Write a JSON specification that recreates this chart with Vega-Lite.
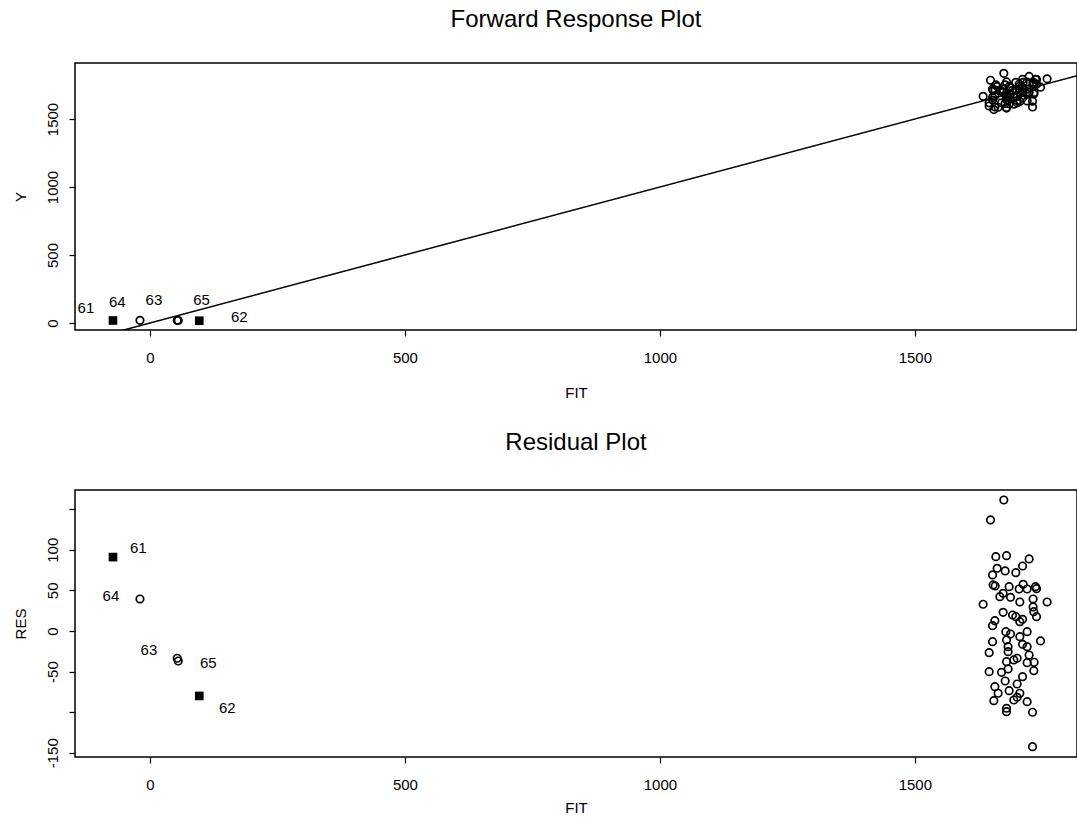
{
  "$schema": "https://vega.github.io/schema/vega-lite/v6.json",
  "padding": {"left": 12, "top": 7, "right": 0, "bottom": 0},
  "spacing": 29,
  "datasets": {
    "pts": [
      {"FIT": 1674.5, "Y": 1835.8, "RES": 161.3, "type": "open"},
      {"FIT": 1648.4, "Y": 1785.1, "RES": 136.7, "type": "open"},
      {"FIT": 1658.8, "Y": 1750.3, "RES": 91.5, "type": "open"},
      {"FIT": 1679.8, "Y": 1772.5, "RES": 92.7, "type": "open"},
      {"FIT": 1724.1, "Y": 1812.8, "RES": 88.7, "type": "open"},
      {"FIT": 1661.4, "Y": 1738.6, "RES": 77.2, "type": "open"},
      {"FIT": 1677.1, "Y": 1751.0, "RES": 73.9, "type": "open"},
      {"FIT": 1711.2, "Y": 1791.2, "RES": 80.0, "type": "open"},
      {"FIT": 1698.0, "Y": 1769.8, "RES": 71.8, "type": "open"},
      {"FIT": 1652.4, "Y": 1721.4, "RES": 69.0, "type": "open"},
      {"FIT": 1653.5, "Y": 1710.2, "RES": 56.7, "type": "open"},
      {"FIT": 1657.5, "Y": 1712.9, "RES": 55.4, "type": "open"},
      {"FIT": 1684.9, "Y": 1739.5, "RES": 54.6, "type": "open"},
      {"FIT": 1712.4, "Y": 1769.9, "RES": 57.5, "type": "open"},
      {"FIT": 1704.5, "Y": 1756.2, "RES": 51.7, "type": "open"},
      {"FIT": 1720.2, "Y": 1771.9, "RES": 51.7, "type": "open"},
      {"FIT": 1736.7, "Y": 1791.3, "RES": 54.6, "type": "open"},
      {"FIT": 1738.6, "Y": 1790.7, "RES": 52.1, "type": "open"},
      {"FIT": 1673.1, "Y": 1719.5, "RES": 46.4, "type": "open"},
      {"FIT": 1666.7, "Y": 1708.9, "RES": 42.2, "type": "open"},
      {"FIT": 1687.6, "Y": 1729.1, "RES": 41.5, "type": "open"},
      {"FIT": 1731.9, "Y": 1771.3, "RES": 39.4, "type": "open"},
      {"FIT": 1633.9, "Y": 1666.8, "RES": 32.9, "type": "open"},
      {"FIT": 1705.9, "Y": 1741.6, "RES": 35.7, "type": "open"},
      {"FIT": 1759.4, "Y": 1795.1, "RES": 35.7, "type": "open"},
      {"FIT": 1731.9, "Y": 1761.5, "RES": 29.6, "type": "open"},
      {"FIT": 1673.1, "Y": 1696.1, "RES": 23.0, "type": "open"},
      {"FIT": 1691.6, "Y": 1711.3, "RES": 19.7, "type": "open"},
      {"FIT": 1698.0, "Y": 1715.6, "RES": 17.6, "type": "open"},
      {"FIT": 1711.2, "Y": 1725.6, "RES": 14.4, "type": "open"},
      {"FIT": 1705.9, "Y": 1717.4, "RES": 11.5, "type": "open"},
      {"FIT": 1738.6, "Y": 1756.2, "RES": 17.6, "type": "open"},
      {"FIT": 1733.3, "Y": 1757.1, "RES": 23.8, "type": "open"},
      {"FIT": 1656.9, "Y": 1669.6, "RES": 12.7, "type": "open"},
      {"FIT": 1652.4, "Y": 1658.9, "RES": 6.5, "type": "open"},
      {"FIT": 1678.4, "Y": 1677.5, "RES": -0.9, "type": "open"},
      {"FIT": 1687.6, "Y": 1683.9, "RES": -3.7, "type": "open"},
      {"FIT": 1720.2, "Y": 1719.3, "RES": -0.9, "type": "open"},
      {"FIT": 1705.9, "Y": 1698.9, "RES": -7.0, "type": "open"},
      {"FIT": 1679.8, "Y": 1668.7, "RES": -11.1, "type": "open"},
      {"FIT": 1652.4, "Y": 1639.2, "RES": -13.2, "type": "open"},
      {"FIT": 1746.5, "Y": 1734.2, "RES": -12.3, "type": "open"},
      {"FIT": 1711.2, "Y": 1694.8, "RES": -16.4, "type": "open"},
      {"FIT": 1720.2, "Y": 1700.9, "RES": -19.3, "type": "open"},
      {"FIT": 1682.9, "Y": 1663.6, "RES": -19.3, "type": "open"},
      {"FIT": 1645.7, "Y": 1619.0, "RES": -26.7, "type": "open"},
      {"FIT": 1682.9, "Y": 1657.4, "RES": -25.5, "type": "open"},
      {"FIT": 1724.1, "Y": 1694.5, "RES": -29.6, "type": "open"},
      {"FIT": 1700.6, "Y": 1667.0, "RES": -33.6, "type": "open"},
      {"FIT": 1694.1, "Y": 1658.4, "RES": -35.7, "type": "open"},
      {"FIT": 1679.8, "Y": 1642.0, "RES": -37.8, "type": "open"},
      {"FIT": 1720.2, "Y": 1681.2, "RES": -39.0, "type": "open"},
      {"FIT": 1733.9, "Y": 1695.4, "RES": -38.5, "type": "open"},
      {"FIT": 1645.7, "Y": 1595.6, "RES": -50.1, "type": "open"},
      {"FIT": 1670.0, "Y": 1619.1, "RES": -50.9, "type": "open"},
      {"FIT": 1682.9, "Y": 1636.1, "RES": -46.8, "type": "open"},
      {"FIT": 1733.3, "Y": 1684.4, "RES": -48.9, "type": "open"},
      {"FIT": 1711.2, "Y": 1654.9, "RES": -56.3, "type": "open"},
      {"FIT": 1677.1, "Y": 1615.5, "RES": -61.6, "type": "open"},
      {"FIT": 1700.6, "Y": 1635.3, "RES": -65.3, "type": "open"},
      {"FIT": 1656.9, "Y": 1588.3, "RES": -68.6, "type": "open"},
      {"FIT": 1663.3, "Y": 1586.6, "RES": -76.7, "type": "open"},
      {"FIT": 1684.9, "Y": 1611.4, "RES": -73.5, "type": "open"},
      {"FIT": 1705.9, "Y": 1629.2, "RES": -76.7, "type": "open"},
      {"FIT": 1654.9, "Y": 1569.1, "RES": -85.8, "type": "open"},
      {"FIT": 1694.1, "Y": 1609.1, "RES": -85.0, "type": "open"},
      {"FIT": 1700.6, "Y": 1618.9, "RES": -81.7, "type": "open"},
      {"FIT": 1720.2, "Y": 1633.1, "RES": -87.1, "type": "open"},
      {"FIT": 1679.8, "Y": 1584.6, "RES": -95.2, "type": "open"},
      {"FIT": 1679.8, "Y": 1580.4, "RES": -99.4, "type": "open"},
      {"FIT": 1730.8, "Y": 1630.7, "RES": -100.1, "type": "open"},
      {"FIT": 1730.8, "Y": 1588.3, "RES": -142.5, "type": "open"},
      {"FIT": -72.5, "Y": 18.5, "RES": 91.0, "type": "filled"},
      {"FIT": 96.7, "Y": 16.7, "RES": -80.0, "type": "filled"},
      {"FIT": 53.5, "Y": 19.9, "RES": -33.6, "type": "open"},
      {"FIT": -19.6, "Y": 19.8, "RES": 39.4, "type": "open"},
      {"FIT": 55.5, "Y": 18.5, "RES": -37.0, "type": "open"}
    ],
    "idline": [
      {"FIT": -300, "Y": -300},
      {"FIT": 2000, "Y": 2000}
    ],
    "labtop": [
      {"case": "61", "FIT": -125.5, "Y": 108},
      {"case": "64", "FIT": -64.1, "Y": 156.6},
      {"case": "63", "FIT": 7.8, "Y": 166.9},
      {"case": "65", "FIT": 101.3, "Y": 166.9},
      {"case": "62", "FIT": 175.2, "Y": 46.3}
    ],
    "labbot": [
      {"case": "61", "FIT": -22.9, "RES": 101.8},
      {"case": "64", "FIT": -76.5, "RES": 43.5},
      {"case": "63", "FIT": -2.0, "RES": -23.4},
      {"case": "65", "FIT": 114.4, "RES": -39.8},
      {"case": "62", "FIT": 151.6, "RES": -95.2}
    ]
  },
  "vconcat": [
    {
      "width": 1002,
      "height": 267,
      "title": {"text": "Forward Response Plot", "offset": 31},
      "encoding": {
        "x": {"field": "FIT", "type": "quantitative", "scale": {"domain": [-147, 1818], "nice": false, "zero": false},
              "axis": {"values": [0, 500, 1000, 1500], "labelExpr": "'' + datum.value", "title": "FIT", "labelPadding": 14, "titlePadding": 20}},
        "y": {"field": "Y", "type": "quantitative", "scale": {"domain": [-51.5, 1911.8], "nice": false, "zero": false},
              "axis": {"values": [0, 500, 1000, 1500], "labelExpr": "'' + datum.value", "title": "Y", "labelAngle": 270, "labelAlign": "center", "labelBaseline": "middle", "labelPadding": 17, "titlePadding": 17}}
      },
      "layer": [
        {"data": {"name": "idline"}, "mark": {"type": "line", "color": "black", "strokeWidth": 1.5, "clip": true}},
        {"data": {"name": "pts"}, "transform": [{"filter": "datum.type == 'open'"}],
         "mark": {"type": "point", "shape": "circle", "filled": false, "color": "black", "size": 56, "strokeWidth": 1.7, "opacity": 1}},
        {"data": {"name": "pts"}, "transform": [{"filter": "datum.type == 'filled'"}],
         "mark": {"type": "point", "shape": "square", "filled": true, "color": "black", "size": 75, "opacity": 1}},
        {"data": {"name": "labtop"}, "mark": {"type": "text", "font": "Liberation Sans", "fontSize": 15, "color": "black", "align": "center", "baseline": "middle"},
         "encoding": {"text": {"field": "case"}}}
      ]
    },
    {
      "width": 1002,
      "height": 267,
      "title": {"text": "Residual Plot", "offset": 35},
      "encoding": {
        "x": {"field": "FIT", "type": "quantitative", "scale": {"domain": [-147, 1818], "nice": false, "zero": false},
              "axis": {"values": [0, 500, 1000, 1500], "labelExpr": "'' + datum.value", "title": "FIT", "labelPadding": 14, "titlePadding": 8}},
        "y": {"field": "RES", "type": "quantitative", "scale": {"domain": [-155.2, 173.6], "nice": false, "zero": false},
              "axis": {"values": [-150, -100, -50, 0, 50, 100, 150], "labelExpr": "datum.value == -100 || datum.value == 150 ? '' : '' + datum.value", "title": "RES", "labelAngle": 270, "labelAlign": "center", "labelBaseline": "middle", "labelPadding": 17, "titlePadding": 17}}
      },
      "layer": [
        {"data": {"name": "pts"}, "transform": [{"filter": "datum.type == 'open'"}],
         "mark": {"type": "point", "shape": "circle", "filled": false, "color": "black", "size": 56, "strokeWidth": 1.7, "opacity": 1}},
        {"data": {"name": "pts"}, "transform": [{"filter": "datum.type == 'filled'"}],
         "mark": {"type": "point", "shape": "square", "filled": true, "color": "black", "size": 75, "opacity": 1}},
        {"data": {"name": "labbot"}, "mark": {"type": "text", "font": "Liberation Sans", "fontSize": 15, "color": "black", "align": "center", "baseline": "middle"},
         "encoding": {"text": {"field": "case"}}}
      ]
    }
  ],
  "config": {
    "font": "Liberation Sans",
    "view": {"stroke": "black", "strokeWidth": 1.5},
    "axis": {"domain": false, "grid": false, "tickColor": "black", "tickSize": 6, "tickWidth": 1.2,
             "labelFont": "Liberation Sans", "labelFontSize": 15, "labelColor": "black",
             "titleFont": "Liberation Sans", "titleFontSize": 15, "titleFontWeight": "normal", "titleColor": "black"},
    "title": {"font": "Liberation Sans", "fontSize": 24, "fontWeight": "normal", "color": "black", "anchor": "middle"}
  }
}
